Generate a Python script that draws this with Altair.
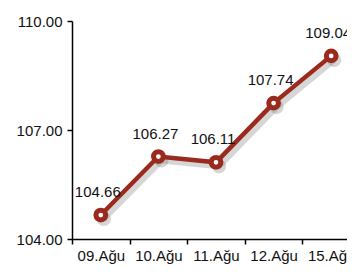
import altair as alt
import pandas as pd

dates = ["09.Ağu", "10.Ağu", "11.Ağu", "12.Ağu", "15.Ağu"]
values = [104.66, 106.27, 106.11, 107.74, 109.04]
labels = ["104.66", "106.27", "106.11", "107.74", "109.04"]

df = pd.DataFrame({"idx": list(range(len(dates))), "date": dates,
                   "value": values, "label": labels})

FONT = "Liberation Sans"
RED = "#9b2a1e"
W = 275        # visible plot width
STEP = 57.6    # width of one category band

label_expr = "[" + ",".join("'%s'" % d for d in dates) + "][datum.value]"

x = alt.X("idx:Q", title=None,
          scale=alt.Scale(domain=[-0.5, -0.5 + W / STEP], nice=False, zero=False),
          axis=alt.Axis(values=list(range(len(dates))), labelExpr=label_expr,
                        tickOffset=-STEP / 2, labelOffset=STEP / 2, domainColor="#000",
                        domainWidth=1.5, tickColor="#000", tickWidth=1.5, tickSize=5,
                        labelFont=FONT, labelFontSize=15, labelColor="#111",
                        labelPadding=4, labelFlush=False, labelOverlap=False,
                        grid=False))
y = alt.Y("value:Q", title=None,
          scale=alt.Scale(domain=[104, 110], nice=False, zero=False),
          axis=alt.Axis(values=[104, 107, 110], format=".2f", domainColor="#000",
                        domainWidth=1.5, tickColor="#000", tickWidth=1.5, tickSize=5,
                        labelFont=FONT, labelFontSize=15, labelColor="#111",
                        labelPadding=5, grid=False))

base = alt.Chart(df).encode(x=x, y=y)

shadow = base.mark_line(color="#777", strokeWidth=6, opacity=0.3,
                        xOffset=3, yOffset=4)
shadow_pts = base.mark_point(filled=True, color="#777", size=200, opacity=0.3,
                             xOffset=3, yOffset=4)
line = base.mark_line(color=RED, strokeWidth=4.5)
pts = base.mark_point(filled=False, fill="white", fillOpacity=1, color=RED,
                      strokeWidth=5, size=95, opacity=1)
text = base.mark_text(dy=-23, dx=-3, font=FONT, fontSize=15, color="#111").encode(text="label:N")

chart = alt.layer(shadow, shadow_pts, line, pts, text).properties(
    width=W, height=218,
    autosize=alt.AutoSizeParams(type="none"),
    padding={"left": 64, "top": 13, "right": 0, "bottom": 25},
).configure_view(stroke=None)

chart.save("out.html", embed_options={"renderer": "svg", "actions": False})
